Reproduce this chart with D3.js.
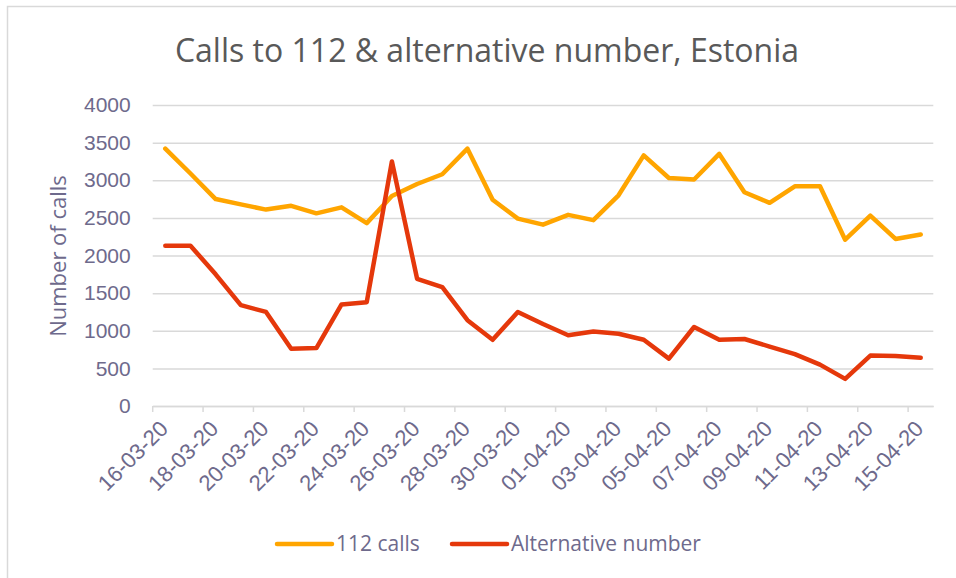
<!DOCTYPE html>
<html>
<head>
<meta charset="utf-8">
<script src="https://cdn.jsdelivr.net/npm/d3@7"></script>
<style>
  html, body { margin: 0; padding: 0; background: #fff; }
  svg { display: block; font-family: "Open Sans", sans-serif; }
</style>
</head>
<body>
<div id="svg-wrapper"></div>
<script>
// daily categories, dd-mm-yy
const dates = [
  "16-03-20", "17-03-20", "18-03-20", "19-03-20", "20-03-20", "21-03-20",
  "22-03-20", "23-03-20", "24-03-20", "25-03-20", "26-03-20", "27-03-20",
  "28-03-20", "29-03-20", "30-03-20", "31-03-20", "01-04-20", "02-04-20",
  "03-04-20", "04-04-20", "05-04-20", "06-04-20", "07-04-20", "08-04-20",
  "09-04-20", "10-04-20", "11-04-20", "12-04-20", "13-04-20", "14-04-20",
  "15-04-20",
];

const calls112 = [
  3420, 3090, 2750, 2680, 2610, 2660, 2560, 2640, 2430, 2790, 2950, 3080,
  3420, 2740, 2490, 2410, 2540, 2470, 2800, 3330, 3030, 3010, 3350, 2840,
  2700, 2920, 2920, 2210, 2530, 2220, 2280,
];

const altNumber = [
  2130, 2130, 1750, 1340, 1250, 760, 770, 1350, 1380, 3250, 1690, 1580,
  1140, 880, 1250, 1090, 940, 990, 960, 880, 630, 1050, 880, 890,
  790, 690, 550, 360, 670, 665, 640,
];

const yTicks = [0, 500, 1000, 1500, 2000, 2500, 3000, 3500, 4000];

const seriesNames = ["112 calls", "Alternative number"];
const seriesColors = ["#FFA500", "#E5380B"];

const width = 956;
const height = 578;
const textColor = "#6E6A8C";
const gridColor = "#D9D9D9";

const svg = d3.select("#svg-wrapper").append("svg")
  .attr("width", width)
  .attr("height", height);

// chart border
svg.append("rect")
  .attr("x", 7.5).attr("y", 6.5)
  .attr("width", width).attr("height", height)
  .attr("fill", "none")
  .attr("stroke", gridColor)
  .attr("stroke-width", 1.5);

// plot area
const plotLeft = 152.7, plotRight = 933.3, plotTop = 105, plotBottom = 406;

const x = d3.scaleBand().domain(dates).range([plotLeft, plotRight]).padding(0);
const y = d3.scaleLinear().domain([0, 4000]).range([plotBottom, plotTop]);
const cx = (d) => x(d) + x.bandwidth() / 2;

// gridlines + y labels
const yAxis = d3.axisLeft(y)
  .tickValues(yTicks)
  .tickFormat(d3.format("d"))
  .tickSize(-(plotRight - plotLeft))
  .tickPadding(22);

const gy = svg.append("g")
  .attr("transform", `translate(${plotLeft},0)`)
  .call(yAxis);
gy.select(".domain").remove();
gy.selectAll(".tick line")
  .attr("stroke", gridColor)
  .attr("stroke-width", 1.5);
gy.selectAll(".tick text")
  .attr("fill", textColor)
  .style("font-size", "21px");

// x axis: line, ticks every 2nd category boundary, rotated labels
const labelDates = dates.filter((d, i) => i % 2 === 0);

const xAxis = d3.axisBottom(x)
  .tickValues(labelDates)
  .tickSize(0)
  .tickPadding(0);

const gx = svg.append("g")
  .attr("transform", `translate(0,${plotBottom})`)
  .call(xAxis);
gx.select(".domain")
  .attr("stroke", gridColor)
  .attr("stroke-width", 1.5);
gx.selectAll(".tick text")
  .attr("fill", textColor)
  .style("font-size", "22px")
  .attr("text-anchor", "end")
  .attr("dy", null)
  .attr("transform", "translate(4,24) rotate(-45)");

gx.selectAll(".boundary")
  .data(labelDates)
  .enter()
  .append("line")
  .attr("class", "boundary")
  .attr("x1", (d) => x(d))
  .attr("x2", (d) => x(d))
  .attr("y1", 0)
  .attr("y2", 6)
  .attr("stroke", gridColor)
  .attr("stroke-width", 1.5);

// lines
const line = d3.line()
  .x((d, i) => cx(dates[i]))
  .y((d) => y(d));

[calls112, altNumber].forEach((values, k) => {
  svg.append("path")
    .datum(values)
    .attr("fill", "none")
    .attr("stroke", seriesColors[k])
    .attr("stroke-width", 4.5)
    .attr("stroke-linejoin", "round")
    .attr("stroke-linecap", "round")
    .attr("d", line);
});

// title
svg.append("text")
  .attr("x", 487)
  .attr("y", 62)
  .attr("text-anchor", "middle")
  .attr("fill", "#595959")
  .style("font-size", "32px")
  .text("Calls to 112 & alternative number, Estonia");

// y axis title
svg.append("text")
  .attr("transform", "translate(66,256) rotate(-90)")
  .attr("text-anchor", "middle")
  .attr("fill", textColor)
  .style("font-size", "22px")
  .text("Number of calls");

// legend
const legendItems = [
  { x: 277, name: seriesNames[0], color: seriesColors[0] },
  { x: 452, name: seriesNames[1], color: seriesColors[1] },
];
const legend = svg.append("g");
legendItems.forEach((item) => {
  legend.append("line")
    .attr("x1", item.x).attr("x2", item.x + 55)
    .attr("y1", 544).attr("y2", 544)
    .attr("stroke", item.color)
    .attr("stroke-width", 4.5)
    .attr("stroke-linecap", "round");
  legend.append("text")
    .attr("x", item.x + 59)
    .attr("y", 551)
    .attr("fill", textColor)
    .style("font-size", "21px")
    .text(item.name);
});
</script>
</body>
</html>
